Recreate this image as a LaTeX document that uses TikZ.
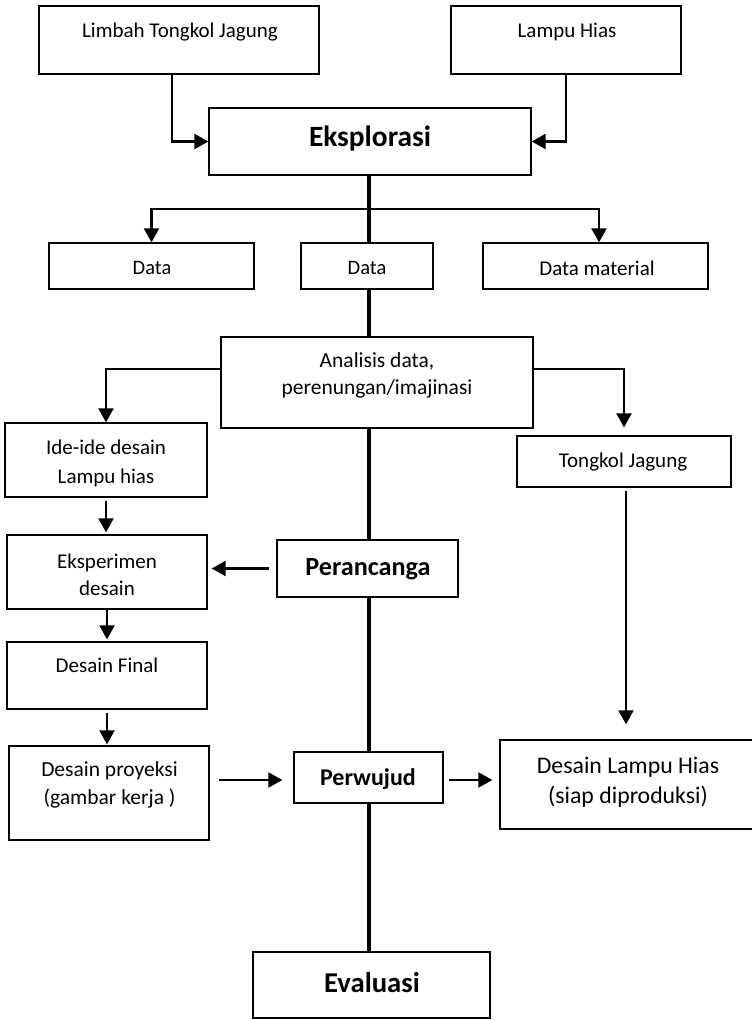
\documentclass[tikz,border=0pt]{standalone}
\usepackage{fontspec}
\setmainfont{Carlito}
\usetikzlibrary{arrows.meta}

\begin{document}
\begin{tikzpicture}[x=1pt, y=-1pt,
  box/.style={draw, line width=1.3pt, inner sep=0pt},
  lbl/.style={inner sep=0pt, align=center, font=\fontsize{21}{28}\selectfont},
  head/.style={inner sep=0pt, font=\bfseries\fontsize{#1}{#1}\selectfont},
  arr/.style={line width=2.2pt, -{Triangle[length=14pt,width=15pt]}},
  link/.style={line width=2.2pt},
  trunk/.style={line width=3.2pt},
  thinarr/.style={line width=1.8pt, -{Triangle[length=14pt,width=15pt]}}
]
\useasboundingbox (0,0) rectangle (752,1020);

% boxes
\node[box, minimum width=280pt, minimum height=68pt] (limbah) at (179,40) {};
\node[box, minimum width=230pt, minimum height=68pt] (lampu) at (566,40) {};
\node[box, minimum width=322pt, minimum height=67pt] (ekspl) at (370,141.5) {};
\node[box, minimum width=205pt, minimum height=46pt] (data1) at (151.5,266) {};
\node[box, minimum width=132pt, minimum height=46pt] (data2) at (367,266) {};
\node[box, minimum width=225pt, minimum height=46pt] (datam) at (595.5,266) {};
\node[box, minimum width=312pt, minimum height=91pt] (anal) at (377,382.5) {};
\node[box, minimum width=202pt, minimum height=74pt] (ide) at (106,460) {};
\node[box, minimum width=200pt, minimum height=74pt] (eksp) at (107,572) {};
\node[box, minimum width=200pt, minimum height=67pt] (final) at (107,675.5) {};
\node[box, minimum width=200pt, minimum height=94pt] (proy) at (109,793) {};
\node[box, minimum width=181pt, minimum height=57pt] (perc) at (367.5,568.5) {};
\node[box, minimum width=214pt, minimum height=51pt] (tongkol) at (624,461.5) {};
\node[box, minimum width=149pt, minimum height=51pt] (perw) at (368.5,777.5) {};
\node[box, minimum width=254pt, minimum height=89pt] (dlh) at (627,784.5) {};
\node[box, minimum width=237pt, minimum height=66pt] (eval) at (371.5,985) {};

% labels
\node[lbl] (t-limbah) at (180,32) {Limbah Tongkol Jagung};
\node[lbl] (t-lampu) at (567,32) {Lampu Hias};
\node[head=29.4] (t-ekspl) at (370,138) {Eksplorasi};
\node[lbl, font=\fontsize{20.5}{28}\selectfont] (t-data1) at (152,268) {Data};
\node[lbl, font=\fontsize{20.5}{28}\selectfont] (t-data2) at (367,268) {Data};
\node[lbl] (t-datam) at (597,268) {Data material};
\node[lbl, font=\fontsize{21.5}{27}\selectfont] (t-anal) at (377,375) {Analisis data,\\perenungan/imajinasi};
\node[lbl, font=\fontsize{21}{29}\selectfont] (t-ide) at (106,463.5) {Ide-ide desain\\Lampu hias};
\node[lbl, font=\fontsize{21}{27}\selectfont] (t-eksp) at (107,574.5) {Eksperimen\\desain};
\node[lbl] (t-final) at (107,665) {Desain Final};
\node[lbl, font=\fontsize{21.5}{28}\selectfont] (t-proy) at (109.5,785) {Desain proyeksi\\(gambar kerja )};
\node[head=26.2] (t-perc) at (368,569) {Perancanga};
\node[lbl] (t-tongkol) at (623,462) {Tongkol Jagung};
\node[head=24] (t-perw) at (368,779) {Perwujud};
\node[lbl, font=\fontsize{23.8}{30}\selectfont] (t-dlh) at (628,782) {Desain Lampu Hias\\(siap diproduksi)};
\node[head=28.7] (t-eval) at (372,983) {Evaluasi};

% guide coordinates for the connector routes
\coordinate (xl) at (172,0);
\coordinate (xr) at (566,0);
\coordinate (tx) at (369,0);
\coordinate (br) at (369,209);
\coordinate (ay) at (0,369);
\coordinate (py) at (0,780);
\coordinate (tg) at (626,0);

% inputs into Eksplorasi
\draw[arr] (limbah.south -| xl) |- (ekspl.west);
\draw[arr] (lampu.south -| xr) |- (ekspl.east);

% main spine
\draw[trunk] (ekspl.south -| tx) -- (data2.north -| tx);
\draw[trunk] (data2.south -| tx) -- (anal.north -| tx);
\draw[trunk] (anal.south -| tx) -- (perc.north -| tx);
\draw[trunk] (perc.south -| tx) -- (perw.north -| tx);
\draw[trunk] (perw.south -| tx) -- (eval.north -| tx);

% branches to the data boxes
\draw[arr] (br) -| (data1.north);
\draw[arr] (br) -| ([xshift=3.5pt]datam.north);

% from the analysis box
\draw[arr] (anal.west |- ay) -| (ide.north);
\draw[arr, shorten >=8pt] (anal.east |- ay) -| (tongkol.north);

% left column
\draw[arr, shorten <=3pt, shorten >=2pt] (ide.south) -- (ide.south |- eksp.north);
\draw[arr, shorten >=2pt] (eksp.south) -- (eksp.south |- final.north);
\draw[arr, shorten <=3pt, shorten >=1pt] (final.south) -- (final.south |- proy.north);
\draw[arr, shorten <=7pt, shorten >=4pt] (perc.west) -- (perc.west -| eksp.east);

% toward the final design
\draw[arr, shorten <=9pt, shorten >=11pt] (proy.east |- py) -- (perw.west |- py);
\draw[arr, shorten <=5pt, shorten >=7pt] (perw.east |- py) -- (dlh.west |- py);
\draw[thinarr, shorten <=3pt, shorten >=15pt] (tongkol.south -| tg) -- (dlh.north -| tg);

\end{tikzpicture}
\end{document}
